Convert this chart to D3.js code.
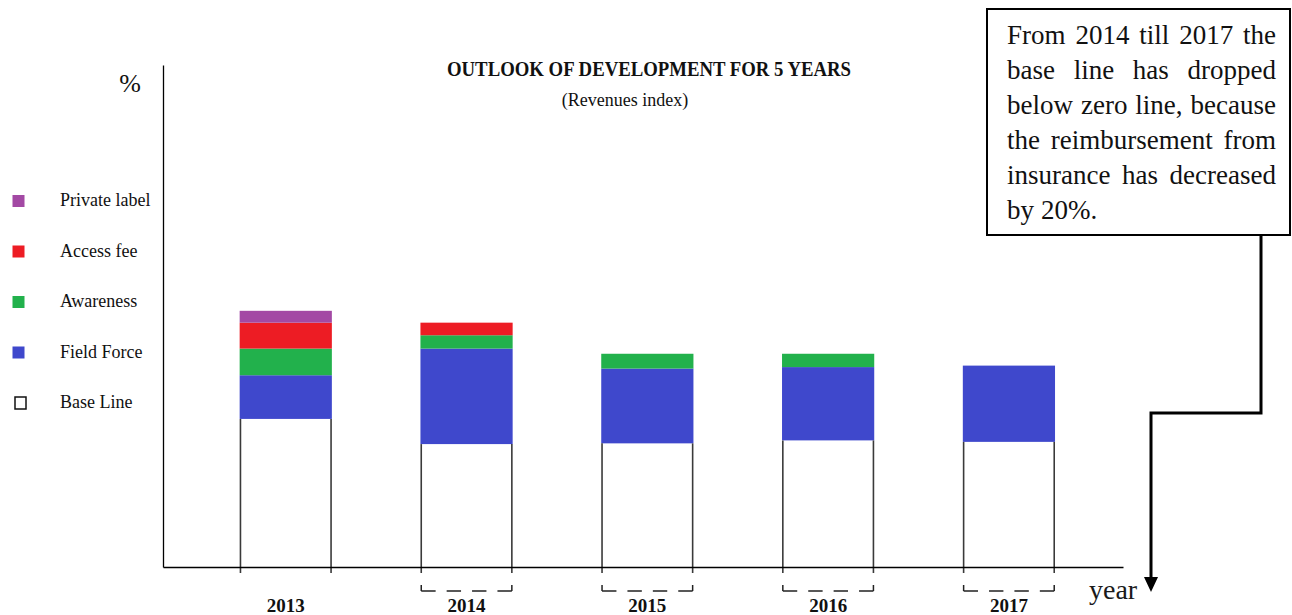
<!DOCTYPE html>
<html>
<head>
<meta charset="utf-8">
<script src="https://cdn.jsdelivr.net/npm/d3@7"></script>
<style>
  html, body { margin: 0; padding: 0; background: #fff; }
  svg { display: block; font-family: "Liberation Serif", "Times New Roman", serif; }
</style>
</head>
<body>
<svg id="chart" width="1292" height="615"></svg>
<script>
// Revenue index per year, split by contribution (stacked bottom to top)
const years        = ["2013", "2014", "2015", "2016", "2017"];
const baseLine     = [100, 83, 83.5, 85.5, 84.5];
const fieldForce   = [29.5, 64.5, 50.5, 49.5, 51.5];
const awareness    = [18, 9, 10, 9, 0];
const accessFee    = [17.5, 8.5, 0, 0, 0];
const privateLabel = [8, 0, 0, 0, 0];

const seriesNames  = ["Base Line", "Field Force", "Awareness", "Access fee", "Private label"];
const seriesValues = [baseLine, fieldForce, awareness, accessFee, privateLabel];
const seriesColors = ["#ffffff", "#3f48cc", "#22b14c", "#ed1c24", "#a349a4"];

// Years whose base line fell below the zero line
const bracketYears = ["2014", "2015", "2016", "2017"];

const titleText    = "OUTLOOK OF DEVELOPMENT FOR 5 YEARS";
const subtitleText = "(Revenues index)";
const yUnitLabel   = "%";
const xUnitLabel   = "year";
const noteLines = [
  "From 2014 till 2017 the",
  "base line has dropped",
  "below zero line, because",
  "the reimbursement from",
  "insurance has decreased",
  "by 20%."
];

// ---- layout ----
const svg = d3.select("#chart");
const plot = { left: 163, right: 1123, top: 65, bottom: 567 };
const yMax = 339;

const rows = years.map((yr, i) => {
  const r = { year: yr };
  seriesNames.forEach((k, s) => { r[k] = seriesValues[s][i]; });
  return r;
});
const stacked = d3.stack().keys(seriesNames)(rows);

const x = d3.scaleBand()
  .domain(years)
  .range([plot.left, plot.right])
  .paddingInner(0.49)
  .paddingOuter(0.4)
  .align(0.53);

const y = d3.scaleLinear().domain([0, yMax]).range([plot.bottom, plot.top]);
const color = d3.scaleOrdinal().domain(seriesNames).range(seriesColors);

// ---- stacked bars ----
const layers = svg.append("g").selectAll("g")
  .data(stacked)
  .join("g")
  .attr("fill", d => color(d.key));

layers.selectAll("rect")
  .data(d => d.filter(p => p[1] - p[0] > 0))
  .join("rect")
  .attr("x", d => x(d.data.year))
  .attr("y", d => y(d[1]))
  .attr("width", x.bandwidth())
  .attr("height", d => y(d[0]) - y(d[1]));

// outline sides of the base line box, running slightly past the axis
const baseLayer = stacked[0];
const sides = svg.append("g").attr("stroke", "#3a3a3a").attr("stroke-width", 1.6);
baseLayer.forEach(p => {
  const top = y(p[1]);
  [x(p.data.year) + 0.8, x(p.data.year) + x.bandwidth() - 0.8].forEach(xx => {
    sides.append("line")
      .attr("x1", xx).attr("x2", xx)
      .attr("y1", top).attr("y2", plot.bottom + 6);
  });
});

// ---- axes ----
svg.append("g")
  .attr("transform", `translate(${plot.left},0)`)
  .call(d3.axisLeft(y).tickValues([]).tickSizeOuter(0))
  .call(g => g.select(".domain").attr("stroke", "#000").attr("stroke-width", 1.3));

const xAxis = svg.append("g")
  .attr("transform", `translate(0,${plot.bottom})`)
  .call(d3.axisBottom(x).tickSize(0).tickSizeOuter(0).tickPadding(32));
xAxis.select(".domain").attr("stroke", "#000").attr("stroke-width", 1.5);
xAxis.selectAll("text")
  .attr("font-family", "Liberation Serif, serif")
  .attr("font-size", 19)
  .attr("font-weight", "bold")
  .attr("fill", "#111");

// dashed brackets under the affected years
const bracketY = plot.bottom + 24;
const bracket = svg.append("g").attr("stroke", "#222").attr("stroke-width", 1.5).attr("fill", "none");
bracketYears.forEach(yr => {
  const x0 = x(yr) + 0.8, x1 = x(yr) + x.bandwidth() - 0.8;
  const w = x1 - x0, gap = 11, dash = (w - 3 * gap) / 4;
  bracket.append("path").attr("d", `M${x0},${bracketY - 6}V${bracketY}`);
  bracket.append("path").attr("d", `M${x1},${bracketY - 6}V${bracketY}`);
  bracket.append("line")
    .attr("x1", x0).attr("x2", x1)
    .attr("y1", bracketY).attr("y2", bracketY)
    .attr("stroke-dasharray", `${dash},${gap}`);
});

// ---- titles and unit labels ----
svg.append("text")
  .attr("x", 649).attr("y", 76)
  .attr("text-anchor", "middle")
  .attr("font-size", 20).attr("font-weight", "bold")
  .attr("textLength", 404).attr("lengthAdjust", "spacingAndGlyphs")
  .attr("fill", "#111")
  .text(titleText);

svg.append("text")
  .attr("x", 625).attr("y", 106)
  .attr("text-anchor", "middle")
  .attr("font-size", 18)
  .attr("fill", "#111")
  .text(subtitleText);

svg.append("text")
  .attr("x", 130).attr("y", 92)
  .attr("text-anchor", "middle")
  .attr("font-size", 26)
  .attr("fill", "#111")
  .text(yUnitLabel);

svg.append("text")
  .attr("x", 1089).attr("y", 599)
  .attr("font-size", 28)
  .attr("fill", "#1a1a1a")
  .text(xUnitLabel);

// ---- legend (top entry is the top of the stack) ----
const legendOrder = seriesNames.slice().reverse();
const legend = svg.append("g");
legendOrder.forEach((name, i) => {
  const base = 206 + i * 50.5;
  const isBase = name === "Base Line";
  legend.append("rect")
    .attr("x", isBase ? 15 : 12.5).attr("y", base - 11)
    .attr("width", isBase ? 11 : 12).attr("height", 12)
    .attr("fill", color(name))
    .attr("stroke", isBase ? "#111" : "none")
    .attr("stroke-width", 1.5);
  legend.append("text")
    .attr("x", 60).attr("y", base)
    .attr("font-size", 18)
    .attr("fill", "#111")
    .text(name);
});

// ---- note box with justified text ----
const box = { x: 987, y: 9, w: 303, h: 226 };
svg.append("rect")
  .attr("x", box.x).attr("y", box.y)
  .attr("width", box.w).attr("height", box.h)
  .attr("fill", "#fff").attr("stroke", "#000").attr("stroke-width", 2);

const textLeft = 1007, textRight = 1276, lineGap = 35, firstBase = 44;
const note = svg.append("g").attr("font-size", 27).attr("fill", "#111");
noteLines.forEach((line, li) => {
  const words = line.split(" ");
  const by = firstBase + li * lineGap;
  const nodes = words.map(wd => note.append("text").attr("y", by).text(wd));
  const widths = nodes.map(n => n.node().getComputedTextLength());
  const last = li === noteLines.length - 1;
  const space = last ? 7 : (textRight - textLeft - d3.sum(widths)) / Math.max(1, words.length - 1);
  let cx = textLeft;
  nodes.forEach((n, k) => { n.attr("x", cx); cx += widths[k] + space; });
});

// connector from the note down to the time axis
svg.append("path")
  .attr("d", "M1261,235V413H1151V578")
  .attr("fill", "none").attr("stroke", "#000").attr("stroke-width", 3);
svg.append("path")
  .attr("d", "M1144,577L1158,577L1151,592Z")
  .attr("fill", "#000");
</script>
</body>
</html>
